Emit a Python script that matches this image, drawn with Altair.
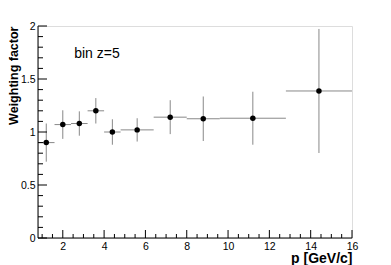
import altair as alt
import pandas as pd

# data
p_center = [1.2, 2.0, 2.8, 3.6, 4.4, 5.6, 7.2, 8.8, 11.2, 14.4]
p_low = [0.8, 1.6, 2.4, 3.2, 4.0, 4.8, 6.4, 8.0, 9.6, 12.8]
p_high = [1.6, 2.4, 3.2, 4.0, 4.8, 6.4, 8.0, 9.6, 12.8, 16.0]
weight = [0.90, 1.07, 1.08, 1.20, 1.00, 1.02, 1.14, 1.125, 1.13, 1.387]
weight_err = [0.18, 0.135, 0.115, 0.12, 0.12, 0.11, 0.16, 0.21, 0.25, 0.585]

x_major = [2, 4, 6, 8, 10, 12, 14, 16]
x_minor = [1.0, 1.5, 2.5, 3.0, 3.5, 4.5, 5.0, 5.5, 6.5, 7.0, 7.5, 8.5, 9.0, 9.5,
           10.5, 11.0, 11.5, 12.5, 13.0, 13.5, 14.5, 15.0, 15.5]
y_major = [0, 0.5, 1.0, 1.5, 2.0]
y_minor = [0.1, 0.2, 0.3, 0.4, 0.6, 0.7, 0.8, 0.9, 1.1, 1.2, 1.3, 1.4,
           1.6, 1.7, 1.8, 1.9]

df = pd.DataFrame({
    "p": p_center, "lo": p_low, "hi": p_high, "w": weight,
    "wlo": [w - e for w, e in zip(weight, weight_err)],
    "whi": [w + e for w, e in zip(weight, weight_err)],
})

W, H = 314, 212
xs = alt.Scale(domain=[0.8, 16], nice=False, zero=False)
ys = alt.Scale(domain=[0, 2], nice=False, zero=False)
FONT = "Liberation Sans"

xaxis = alt.Axis(values=x_major, ticks=False, domain=False, grid=False,
                 labelFont=FONT, labelFontSize=10.5, labelColor="black",
                 labelPadding=3, labelFlush=False, format="~g",
                 title="p [GeV/c]", titleFont=FONT, titleFontSize=14,
                 titleFontWeight="bold", titleAnchor="end", titleColor="black",
                 titlePadding=0)
yaxis = alt.Axis(values=y_major, ticks=False, domain=False, grid=False,
                 labelFont=FONT, labelFontSize=10.5, labelColor="black",
                 labelPadding=3, labelFlush=False, format="~g",
                 title="Weighting factor", titleFont=FONT, titleFontSize=12.5,
                 titleFontWeight="bold", titleAnchor="end", titleColor="black",
                 titlePadding=0)

base = alt.Chart(df)

hbar = base.mark_rule(color="#888", strokeWidth=1).encode(
    x=alt.X("lo:Q", scale=xs, axis=xaxis), x2="hi:Q",
    y=alt.Y("w:Q", scale=ys, axis=yaxis))
vbar = base.mark_rule(color="#888", strokeWidth=1).encode(
    x=alt.X("p:Q", scale=xs), y=alt.Y("wlo:Q", scale=ys), y2="whi:Q")
pts = base.mark_circle(color="black", size=30, opacity=1).encode(
    x=alt.X("p:Q", scale=xs), y=alt.Y("w:Q", scale=ys))

# axis lines and inside ticks
one = pd.DataFrame({"a": [0]})
xaxis_line = alt.Chart(one).mark_rule(color="black", strokeWidth=1).encode(
    x=alt.value(0), x2=alt.value(W), y=alt.value(H))
yaxis_line = alt.Chart(one).mark_rule(color="black", strokeWidth=1).encode(
    x=alt.value(0), y=alt.value(0), y2=alt.value(H))

xmaj = alt.Chart(pd.DataFrame({"t": x_major})).mark_rule(color="black").encode(
    x=alt.X("t:Q", scale=xs), y=alt.value(H - 8), y2=alt.value(H))
xmin = alt.Chart(pd.DataFrame({"t": x_minor})).mark_rule(color="black").encode(
    x=alt.X("t:Q", scale=xs), y=alt.value(H - 4), y2=alt.value(H))
ymaj = alt.Chart(pd.DataFrame({"t": y_major})).mark_rule(color="black").encode(
    y=alt.Y("t:Q", scale=ys), x=alt.value(0), x2=alt.value(9))
ymin = alt.Chart(pd.DataFrame({"t": y_minor})).mark_rule(color="black").encode(
    y=alt.Y("t:Q", scale=ys), x=alt.value(0), x2=alt.value(5))

label = alt.Chart(pd.DataFrame({"x": [2.55], "y": [1.70], "t": ["bin z=5"]})).mark_text(
    align="left", baseline="alphabetic", font=FONT, fontSize=14, color="black").encode(
    x=alt.X("x:Q", scale=xs), y=alt.Y("y:Q", scale=ys), text="t:N")

chart = alt.layer(hbar, vbar, pts, xmaj, xmin, ymaj, ymin, xaxis_line, yaxis_line, label).properties(
    width=W, height=H,
    autosize=alt.AutoSizeParams(type="none"),
    padding={"left": 30, "top": 18, "right": 20, "bottom": 27},
).configure_view(stroke="#888", strokeWidth=1).configure(background="white")

chart.save("out.html", embed_options={"renderer": "svg", "actions": False})
